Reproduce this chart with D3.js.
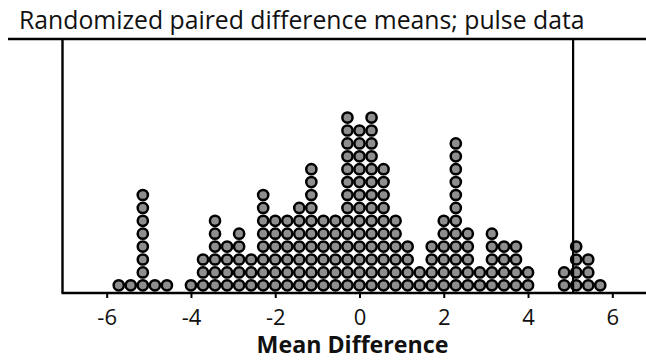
<!DOCTYPE html>
<html>
<head>
<meta charset="utf-8">
<script src="https://cdn.jsdelivr.net/npm/d3@7"></script>
<style>
  html, body { margin: 0; padding: 0; background: #fff; }
  svg { display: block; }
</style>
</head>
<body>
<div id="chart"></div>
<script>
// mean differences (steps of 2/7) and how many randomized samples landed on each
const diffValues = [-5.714, -5.429, -5.143, -4.857, -4.571, -4.000, -3.714, -3.429, -3.143, -2.857,
   -2.571, -2.286, -2.000, -1.714, -1.429, -1.143, -0.857, -0.571, -0.286, 0.000,
   0.286, 0.571, 0.857, 1.143, 1.429, 1.714, 2.000, 2.286, 2.571, 2.857,
   3.143, 3.429, 3.714, 4.000, 4.857, 5.143, 5.429, 5.714];
const diffCounts = [1, 1, 8, 1, 1, 1, 3, 6, 4, 5,
   3, 8, 6, 6, 7, 10, 6, 6, 14, 13,
   14, 10, 6, 4, 2, 4, 6, 12, 5, 2,
   5, 4, 4, 2, 2, 4, 3, 1];
const tickValues = [-6, -4, -2, 0, 2, 4, 6];
const observedDiff = 5.07;
const titleText = "Randomized paired difference means; pulse data";
const axisTitle = "Mean Difference";

const width = 646;
const height = 360;
const font = "'Open Sans', 'DejaVu Sans', sans-serif";

const svg = d3.select("#chart").append("svg")
   .attr("width", width)
   .attr("height", height)
   .attr("viewBox", [0, 0, width, height]);

const frameTop = 39;
const axisY = 293;
const frameLeft = 62.5;

const x = d3.scaleLinear()
   .domain([-6, 6])
   .range([106.7, 612.3]);

// stack position -> pixel row
const y = d3.scaleLinear()
   .domain([0, 1])
   .range([285.3, 272.4]);

// title
const title = svg.append("text")
   .attr("x", 19)
   .attr("y", 29)
   .attr("font-family", font)
   .attr("font-size", 20)
   .attr("fill", "#111")
   .text(titleText);
const tw = title.node().getComputedTextLength();
title.attr("font-size", 20 * 566 / tw);

// dots
const dots = [];
diffValues.forEach((v, i) => {
   for (let j = 0; j < diffCounts[i]; j++) dots.push([v, j]);
});

svg.append("g")
   .selectAll("circle")
   .data(dots)
   .join("circle")
   .attr("cx", d => x(d[0]))
   .attr("cy", d => y(d[1]))
   .attr("r", 5.1)
   .attr("fill", "#8e8e8e")
   .attr("stroke", "#000")
   .attr("stroke-width", 2.5);

// frame
svg.append("line")
   .attr("x1", 8).attr("x2", width)
   .attr("y1", frameTop).attr("y2", frameTop)
   .attr("stroke", "#000").attr("stroke-width", 2.4);

svg.append("line")
   .attr("x1", frameLeft).attr("x2", frameLeft)
   .attr("y1", frameTop).attr("y2", axisY)
   .attr("stroke", "#000").attr("stroke-width", 2.4);

// observed difference line
svg.append("line")
   .attr("x1", x(observedDiff)).attr("x2", x(observedDiff))
   .attr("y1", frameTop).attr("y2", axisY)
   .attr("stroke", "#000").attr("stroke-width", 2.2);

// x axis
const xAxis = g => {
   g.attr("transform", `translate(0,${axisY})`)
      .call(d3.axisBottom(x)
         .tickValues(tickValues)
         .tickFormat(d => d < 0 ? "-" + Math.abs(d) : String(d))
         .tickSize(5)
         .tickPadding(11)
         .tickSizeOuter(0))
      .call(g => g.select(".domain").remove())
      .call(g => g.selectAll(".tick line").attr("stroke", "#000").attr("stroke-width", 2))
      .call(g => g.selectAll(".tick text")
         .attr("fill", "#111")
         .style("font-family", font)
         .style("font-size", "22px"));
};
svg.append("g").call(xAxis);

svg.append("line")
   .attr("x1", frameLeft - 1).attr("x2", width)
   .attr("y1", axisY).attr("y2", axisY)
   .attr("stroke", "#000").attr("stroke-width", 2.4);

const xTitle = svg.append("text")
   .attr("x", 352.5)
   .attr("y", 353)
   .attr("text-anchor", "middle")
   .attr("font-family", font)
   .attr("font-weight", "bold")
   .attr("font-size", 20)
   .attr("fill", "#111")
   .text(axisTitle);
const aw = xTitle.node().getComputedTextLength();
xTitle.attr("font-size", 20 * 192 / aw);
</script>
</body>
</html>
